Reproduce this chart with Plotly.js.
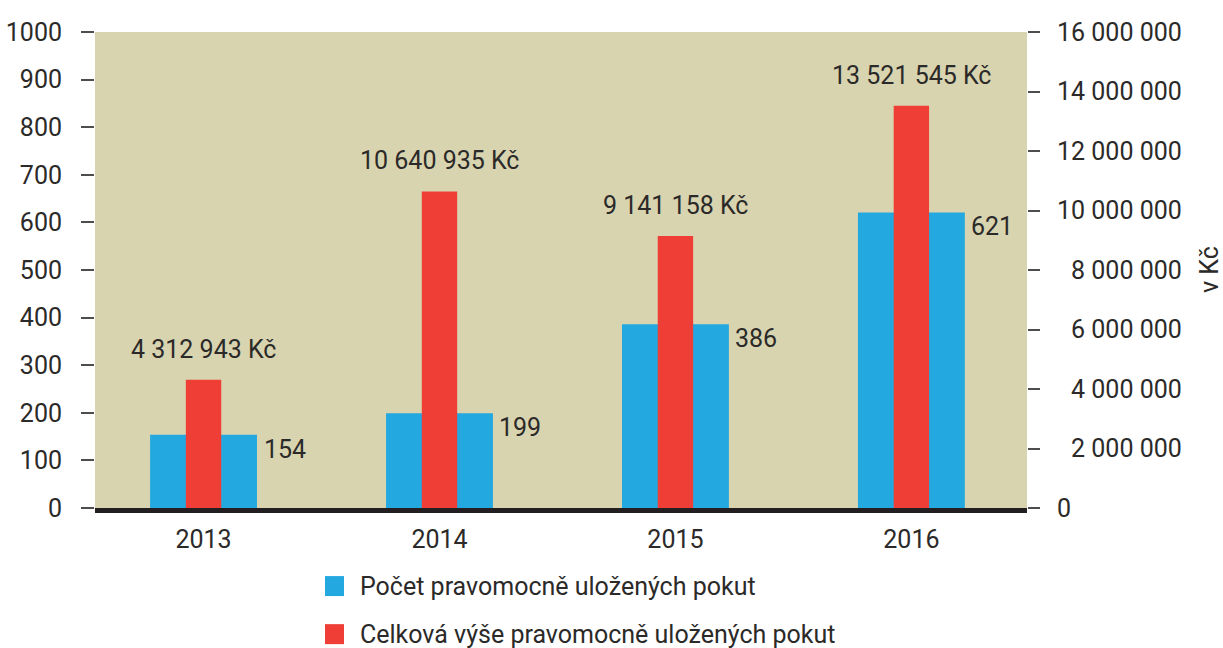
<!DOCTYPE html>
<html>
<head>
<meta charset="utf-8">
<script src="https://cdn.plot.ly/plotly-3.0.1.min.js"></script>
<style>html,body{margin:0;padding:0;background:#fff;}#chart{width:1223px;height:648px;}</style>
</head>
<body>
<div id="chart"></div>
<script>
const years = ['2013', '2014', '2015', '2016'];
const countValues = [154, 199, 386, 621];
const amountValues = [4312943, 10640935, 9141158, 13521545];
const seriesNames = ['Počet pravomocně uložených pokut', 'Celková výše pravomocně uložených pokut'];
const leftTicks = [0, 100, 200, 300, 400, 500, 600, 700, 800, 900, 1000];
const rightTicks = [0, 2000000, 4000000, 6000000, 8000000, 10000000, 12000000, 14000000, 16000000];
const currency = 'Kč';

const FONT = 'Roboto, "Open Sans", sans-serif';
const FS = 25;
const TXT = '#2b2a29';
const BLUE = '#23a8e0';
const RED = '#ef3e36';

function fmt(n) {
  return String(n).replace(/\B(?=(\d{3})+(?!\d))/g, ' ');
}
const maxLen = fmt(rightTicks[rightTicks.length - 1]).length;
const rightTickText = rightTicks.map(v => {
  const s = fmt(v);
  if (v === 0) return s;
  return '\u2007'.repeat(Math.max(0, maxLen - s.length)) + s;
});

const traces = [
  {
    type: 'bar', name: seriesNames[0], x: years, y: countValues,
    yaxis: 'y', width: 0.453, marker: {color: BLUE}, showlegend: false, hoverinfo: 'x+y'
  },
  {
    type: 'bar', name: seriesNames[1], x: years, y: amountValues,
    yaxis: 'y2', width: 0.15, marker: {color: RED}, showlegend: false, hoverinfo: 'x+y'
  }
];

const annotations = [];
years.forEach((yr, i) => {
  annotations.push({
    x: i, y: countValues[i], xref: 'x', yref: 'y',
    text: fmt(countValues[i]), showarrow: false,
    xanchor: 'left', yanchor: 'top', xshift: 58, yshift: 2,
    font: {family: FONT, size: FS, color: TXT}
  });
  annotations.push({
    x: i, y: amountValues[i], xref: 'x', yref: 'y2',
    text: fmt(amountValues[i]) + ' ' + currency, showarrow: false,
    xanchor: 'center', yanchor: 'bottom', yshift: 14,
    font: {family: FONT, size: FS, color: TXT}
  });
});
// right axis title
annotations.push({
  x: 1.1953, y: 0.5, xref: 'paper', yref: 'paper', text: 'v ' + currency,
  showarrow: false, textangle: -90, xanchor: 'center', yanchor: 'middle',
  font: {family: FONT, size: FS, color: TXT}
});
// legend
const legendRows = [-0.164, -0.265];
const legendColors = [BLUE, RED];
const shapes = [];
seriesNames.forEach((nm, i) => {
  annotations.push({
    x: 0.2822, y: legendRows[i], xref: 'paper', yref: 'paper', text: nm,
    showarrow: false, xanchor: 'left', yanchor: 'middle',
    font: {family: FONT, size: FS, color: TXT}
  });
  shapes.push({
    type: 'rect', xref: 'paper', yref: 'paper',
    x0: 0.2468, x1: 0.2672, y0: legendRows[i] - 0.021, y1: legendRows[i] + 0.021,
    fillcolor: legendColors[i], line: {width: 0}
  });
});

const layout = {
  width: 1223, height: 648,
  margin: {l: 95, r: 196, t: 32, b: 140},
  paper_bgcolor: '#ffffff',
  plot_bgcolor: '#d9d4b0',
  barmode: 'overlay',
  font: {family: FONT, size: FS, color: TXT},
  xaxis: {
    type: 'category', range: [-0.46, 3.49], fixedrange: true,
    showgrid: false, zeroline: false, ticks: '',
    showline: true, linewidth: 5, linecolor: '#231f20',
    tickfont: {family: FONT, size: FS, color: TXT}, ticklabelstandoff: 5
  },
  yaxis: {
    range: [0, 1000], tickvals: leftTicks, ticktext: leftTicks.map(String),
    showgrid: false, zeroline: false, showline: false,
    ticks: 'outside', ticklen: 13, tickwidth: 2, tickcolor: '#4d4d4d',
    ticklabelstandoff: 14,
    tickfont: {family: FONT, size: FS, color: TXT}
  },
  yaxis2: {
    overlaying: 'y', side: 'right', range: [0, 16000000],
    tickvals: rightTicks, ticktext: rightTickText,
    showgrid: false, zeroline: false, showline: false,
    ticks: 'outside', ticklen: 12, tickwidth: 2, tickcolor: '#4d4d4d',
    ticklabelstandoff: 12,
    tickfont: {family: FONT, size: FS, color: TXT}
  },
  annotations: annotations,
  shapes: shapes
};

Plotly.newPlot('chart', traces, layout, {displayModeBar: false, staticPlot: true});
</script>
</body>
</html>
